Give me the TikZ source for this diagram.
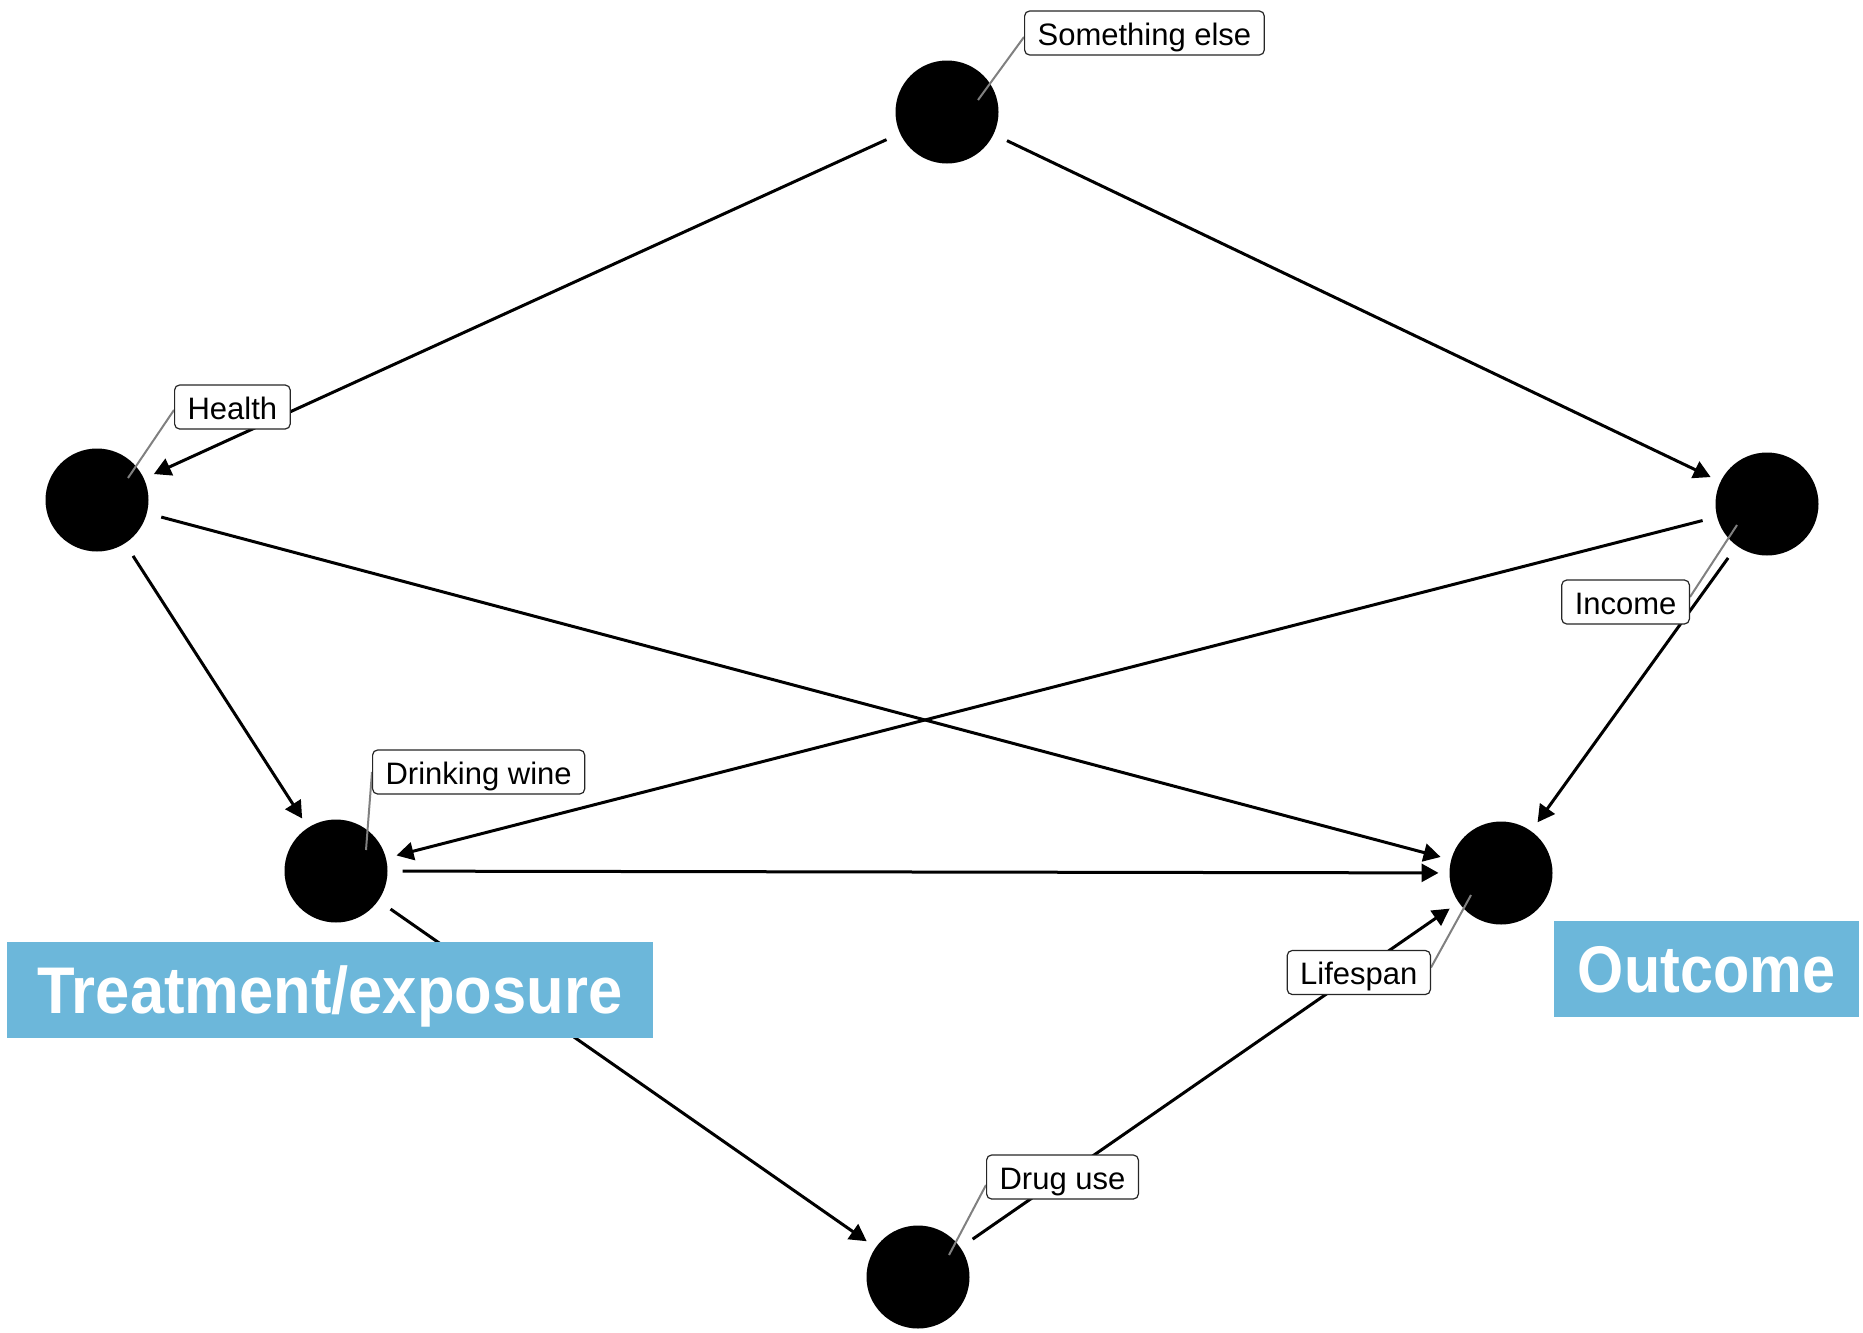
\documentclass[tikz,border=0pt]{standalone}
\usepackage{fontspec}
\setmainfont{Liberation Sans}
\usepackage{graphicx}
\usetikzlibrary{arrows.meta,calc}
\definecolor{calloutblue}{RGB}{108,183,218}
\definecolor{leadergray}{RGB}{128,128,128}
\pgfdeclarelayer{bg}
\pgfdeclarelayer{mid}
\pgfsetlayers{bg,mid,main}
\tikzset{
  dagnode/.style={circle,fill=black,draw=none,minimum size=51.5pt,inner sep=0pt,outer sep=0pt},
  edge/.style={line width=1.5pt,-{Triangle[length=8.5pt,width=9pt]},shorten <=7.5pt,shorten >=5.5pt},
  leader/.style={leadergray,line width=1pt},
  lbl/.style={draw=black!85,fill=white,rounded corners=2.5pt,line width=0.6pt,
    font=\fontsize{15.5pt}{18pt}\selectfont,inner xsep=6.5pt,inner ysep=0pt,
    text height=17pt,text depth=5pt},
  callout/.style={fill=calloutblue,text=white,inner sep=0pt,minimum height=48pt,
    font=\fontsize{33pt}{36pt}\selectfont\bfseries,text height=23.6pt,text depth=0pt}
}
\begin{document}
\begin{tikzpicture}[x=0.5pt,y=-0.5pt]
\useasboundingbox (0,0) rectangle (1863,1333);

% nodes and causal arrows
\begin{pgfonlayer}{bg}
  \node[dagnode] (SE) at (947,112) {};
  \node[dagnode] (H)  at (97,500) {};
  \node[dagnode] (I)  at (1767,504) {};
  \node[dagnode] (D)  at (336,871) {};
  \node[dagnode] (L)  at (1501,873) {};
  \node[dagnode] (DU) at (918,1277) {};

  \draw[edge] (SE) -- (H);
  \draw[edge] (SE) -- (I);
  \draw[edge] (H) -- (D);
  \draw[edge] (H) -- (L);
  \draw[edge] (I) -- (D);
  \draw[edge] (I) -- (L);
  \draw[edge] (D) -- (L);
  \draw[edge] (D) -- (DU);
  \draw[edge] (DU) -- (L);

  % inner ends of the label leaders
  \coordinate (pSE) at ($(SE)+(31,-12)$);
  \coordinate (pH)  at ($(H)+(31,-22)$);
  \coordinate (pD)  at ($(D)+(30,-21)$);
  \coordinate (pI)  at ($(I)+(-30,21)$);
  \coordinate (pDU) at ($(DU)+(31,-22)$);
  \coordinate (pL)  at ($(L)+(-30,22)$);
\end{pgfonlayer}

% node labels
\node[lbl,anchor=west] (lSE) at (1024,33) {Something else};
\node[lbl,anchor=west] (lH)  at (174,407) {Health};
\node[lbl,anchor=west] (lD)  at (372,772) {Drinking wine};
\node[lbl,anchor=east] (lI)  at (1690,602) {Income};
\node[lbl,anchor=west] (lDU) at (986,1177) {Drug use};
\node[lbl,anchor=east] (lL)  at (1431,972.5) {Lifespan};

\begin{pgfonlayer}{mid}
  \draw[leader] (pSE) -- ($(lSE.west)+(0,4)$);
  \draw[leader] (pH)  -- ($(lH.west)+(0,3)$);
  \draw[leader] (pD)  -- (lD.west);
  \draw[leader] (pI)  -- ($(lI.east)+(0,-5)$);
  \draw[leader] (pDU) -- ($(lDU.west)+(0,8)$);
  \draw[leader] (pL)  -- ($(lL.east)+(0,-5)$);
\end{pgfonlayer}

% role callouts
\node[callout,minimum width=323pt] (treat) at (330,990) {\scalebox{0.932}[1]{Treatment/exposure}};
\node[callout,minimum width=152.5pt] (outc) at (1706.5,969) {\scalebox{0.899}[1]{Outcome}};
\end{tikzpicture}
\end{document}
